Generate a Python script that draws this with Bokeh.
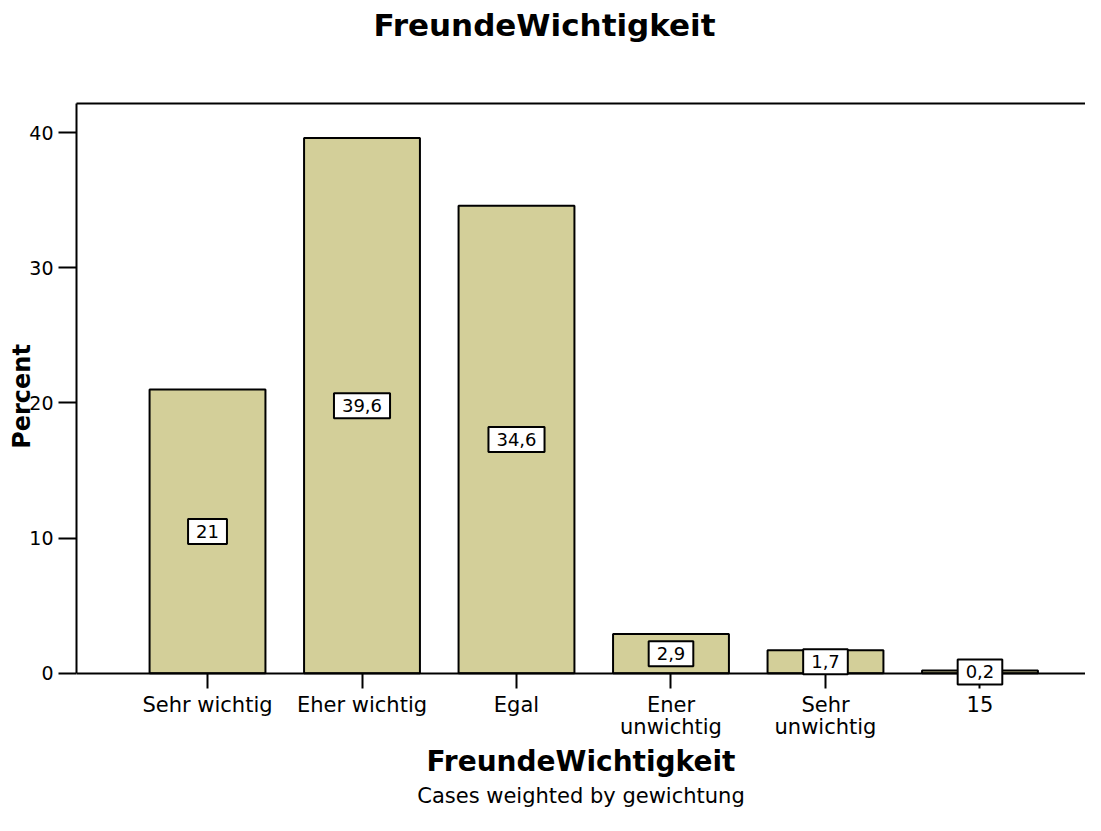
from bokeh.plotting import figure
from bokeh.models import FixedTicker, LinearAxis, Title, ColumnDataSource, Range1d, Label
from bokeh.embed import file_html
from bokeh.resources import INLINE

# ---- data ----
categories = ["Sehr wichtig", "Eher wichtig", "Egal", "Ener\nunwichtig", "Sehr\nunwichtig", "15"]
percent = [21.0, 39.6, 34.6, 2.9, 1.7, 0.2]
y_ticks = [0, 10, 20, 30, 40]
title_text = "FreundeWichtigkeit"
x_label = "FreundeWichtigkeit"
y_label = "Percent"
caption = "Cases weighted by gewichtung"

FONT = "DejaVu Sans"
positions = list(range(1, len(categories) + 1))
bar_labels = [f"{v:g}".replace(".", ",") for v in percent]
src = ColumnDataSource(dict(x=positions, top=percent))

Y_TOP = 42.16
p = figure(width=1085, height=815, title=None,
           x_range=Range1d(0.152, 6.683), y_range=Range1d(-1.2, Y_TOP),
           output_backend="svg", toolbar_location=None,
           min_border_left=76, min_border_right=0,
           min_border_top=103, min_border_bottom=126,
           x_axis_label=x_label, y_axis_label=y_label)
p.outline_line_color = None
p.grid.visible = False
p.background_fill_color = "white"
p.border_fill_color = "white"

p.vbar(x="x", top="top", width=0.75, source=src,
       fill_color="#d3cf99", line_color="black", line_width=2)

# value boxes in the middle of each bar
for xpos, val, txt in zip(positions, percent, bar_labels):
    kw = dict(x=xpos, y=val / 2, text=txt, text_align="center", text_baseline="middle",
              text_font=FONT, text_font_size="18px", text_color="black",
              background_fill_color="white", border_line_color="black",
              border_line_width=2)
    try:
        lab = Label(padding=(8, 6), **kw)
    except Exception:
        lab = Label(**kw)
    p.add_layout(lab)

# x axis line and ticks, drawn at y = 0
x_line = LinearAxis(fixed_location=0, ticker=FixedTicker(ticks=positions),
                    major_label_overrides={pos: "" for pos in positions},
                    major_label_text_font_size="0px",
                    major_tick_out=15, major_tick_in=0, minor_tick_out=0, minor_tick_in=0,
                    axis_line_width=2, major_tick_line_width=2)
p.add_layout(x_line, "below")

# x axis labels (no line, no ticks)
xa = p.xaxis[0]
xa.ticker = FixedTicker(ticks=positions)
xa.major_label_overrides = {pos: cat for pos, cat in zip(positions, categories)}
xa.axis_line_color = None
xa.major_tick_line_color = None
xa.minor_tick_line_color = None
xa.major_tick_out = 0
xa.major_tick_in = 0
xa.minor_tick_out = 0
xa.minor_tick_in = 0
xa.major_label_standoff = 3
xa.major_label_text_font = FONT
xa.major_label_text_font_size = "21px"
xa.major_label_text_line_height = 0.95
xa.major_label_text_color = "black"
xa.axis_label_text_font = FONT
xa.axis_label_text_font_size = "28px"
xa.axis_label_text_font_style = "bold"
xa.axis_label_text_color = "black"
xa.axis_label_standoff = 3

# y axis
ya = p.yaxis[0]
ya.bounds = (0, Y_TOP)
ya.ticker = FixedTicker(ticks=y_ticks)
ya.major_tick_out = 18
ya.major_tick_in = 0
ya.minor_tick_out = 0
ya.minor_tick_in = 0
ya.axis_line_width = 2
ya.major_tick_line_width = 2
ya.major_label_standoff = 5
ya.major_label_text_font = FONT
ya.major_label_text_font_size = "19px"
ya.major_label_text_color = "black"
ya.axis_label_text_font = FONT
ya.axis_label_text_font_size = "24px"
ya.axis_label_text_font_style = "bold"
ya.axis_label_text_color = "black"
ya.axis_label_standoff = -10

# top frame line
top = LinearAxis(ticker=FixedTicker(ticks=[]), axis_line_width=2,
                 major_tick_out=0, major_tick_in=0, minor_tick_out=0, minor_tick_in=0,
                 major_label_standoff=0)
p.add_layout(top, "above")

# spacer + title above
p.add_layout(Title(text=" ", text_font_size="10px", standoff=48), "above")
p.add_layout(Title(text=title_text, align="left", offset=297, text_font=FONT,
                   text_font_size="31px", text_font_style="bold",
                   text_color="black", standoff=0), "above")

# caption below
p.add_layout(Title(text=caption, align="center", text_font=FONT,
                   text_font_size="21px", text_font_style="normal",
                   text_color="black", standoff=0), "below")

open("out.html", "w").write(file_html(p, INLINE))
